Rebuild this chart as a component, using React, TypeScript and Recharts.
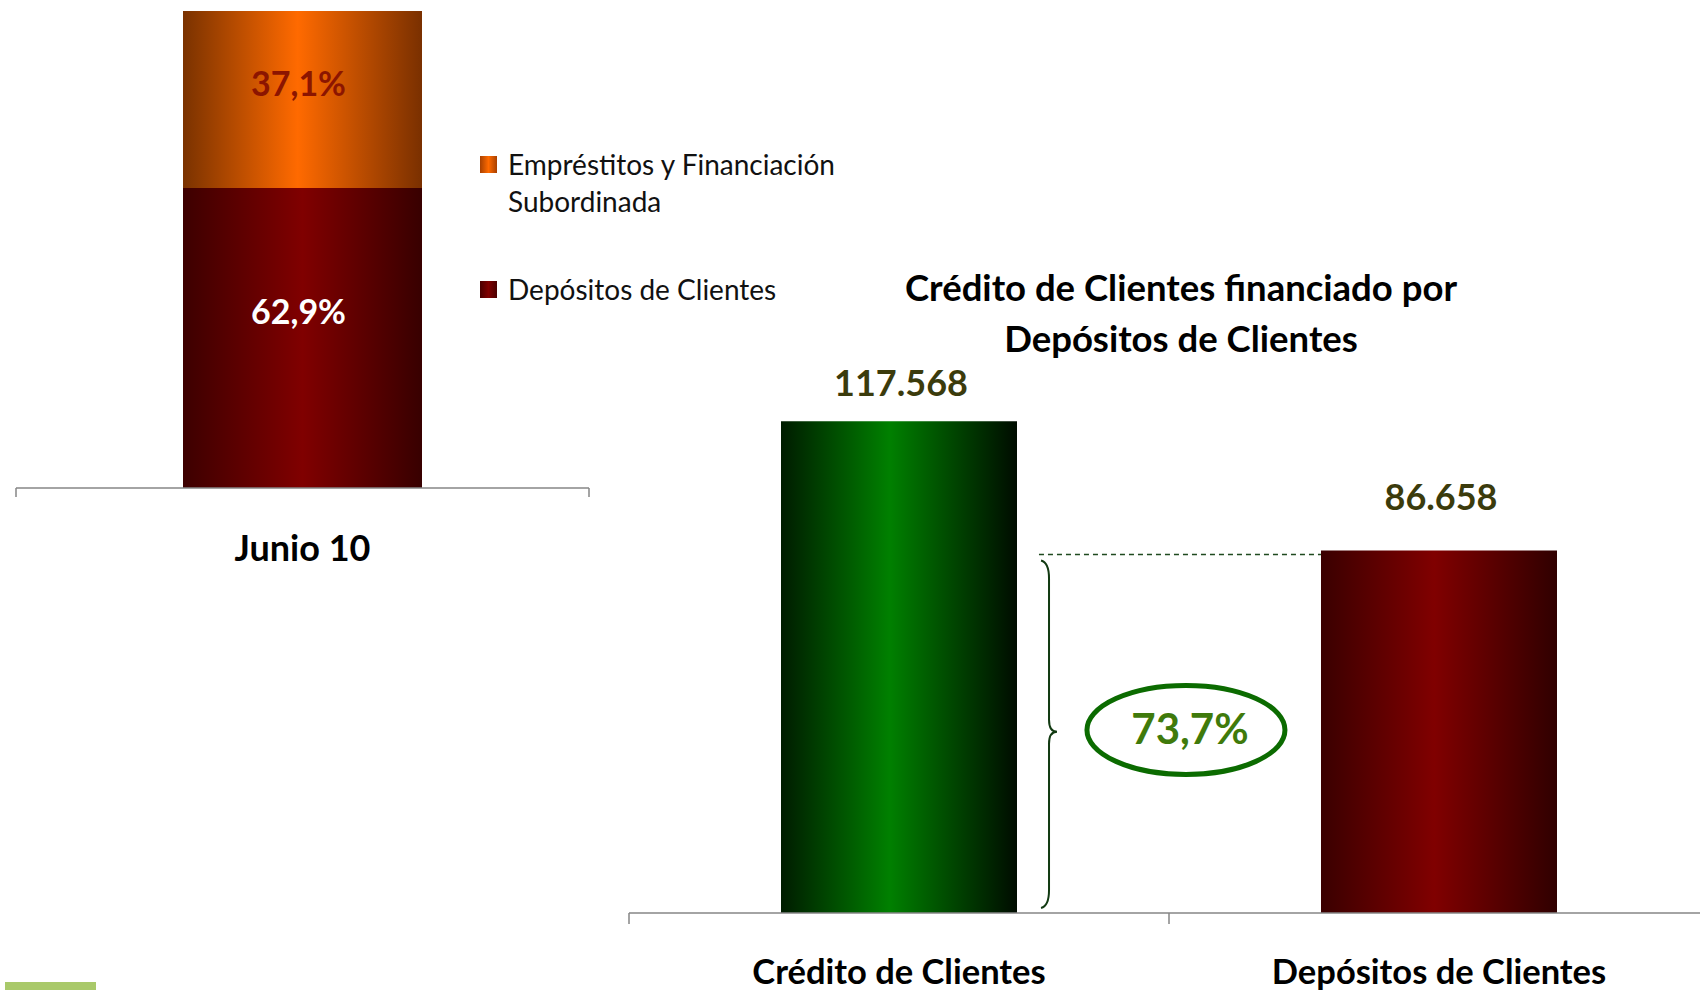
import {
  Bar,
  BarChart,
  Cell,
  LabelList,
  ReferenceArea,
  ReferenceLine,
  XAxis,
  YAxis,
} from "recharts";

// Left chart: funding mix (%)
const MIX_CATEGORIES = ["Junio 10"];
const DEPOSITOS_SHARE = [62.9];
const EMPRESTITOS_SHARE = [37.1];

// Right chart: customer credit vs customer deposits
const FUNDING_CATEGORIES = ["Crédito de Clientes", "Depósitos de Clientes"];
const FUNDING_VALUES = [117568, 86658];

const FONT = "Lato, 'Open Sans', sans-serif";
const AXIS_GRAY = "#868686";
const VALUE_GAP = [39, 54];

const fmtThousands = (v: number) =>
  String(v).replace(/\B(?=(\d{3})+(?!\d))/g, ".");
const fmtPct = (v: number) => v.toFixed(1).replace(".", ",") + "%";

// Excel-style tick marks on category boundaries, hanging below the axis line
const boundaryTick = (len: number) => (p: any) => {
  const base = Math.max(p.y1, p.y2);
  return (
    <line x1={p.x1} x2={p.x1} y1={base} y2={base + len} stroke={AXIS_GRAY} strokeWidth={1.5} />
  );
};

function CategoryTick(props: any) {
  const { x, y, payload, dy, size } = props;
  return (
    <text
      x={x}
      y={y + dy}
      textAnchor="middle"
      dominantBaseline="central"
      fontFamily={FONT}
      fontWeight={700}
      fontSize={size}
      fill="#000"
    >
      {payload.value}
    </text>
  );
}

function CoverageBracket(props: any) {
  const { x, y, width, height } = props;
  const lineStart = x + width * 0.3796;
  const lineEnd = x + width * 0.6407;
  const bx = x + width * 0.3815;
  const stem = bx + 8;
  const tip = bx + 16;
  const top = y + 10;
  const bottom = y + height - 5;
  const mid = y + height * 0.5;
  const d = `M ${bx} ${top} Q ${stem} ${top + 2} ${stem} ${top + 18} L ${stem} ${mid - 12} Q ${stem} ${mid} ${tip} ${mid} Q ${stem} ${mid} ${stem} ${mid + 12} L ${stem} ${bottom - 18} Q ${stem} ${bottom - 2} ${bx} ${bottom}`;
  const cx = x + width * 0.5157;
  const cy = y + height * 0.495;
  const pct = (FUNDING_VALUES[1] / FUNDING_VALUES[0]) * 100;
  return (
    <g>
      <line
        x1={lineStart}
        x2={lineEnd}
        y1={y + 4}
        y2={y + 4}
        stroke="#1f4a1f"
        strokeWidth={1.5}
        strokeDasharray="5 4"
      />
      <path d={d} fill="none" stroke="#123a12" strokeWidth={2} />
      <ellipse cx={cx} cy={cy} rx={99} ry={44.5} fill="#fff" stroke="#0b6b00" strokeWidth={5} />
      <text
        x={cx + 4}
        y={cy - 2}
        textAnchor="middle"
        dominantBaseline="central"
        fontFamily={FONT}
        fontWeight={700}
        fontSize={42}
        fill="#3f7a0b"
      >
        {fmtPct(pct)}
      </text>
    </g>
  );
}

function SegmentLabel(props: any) {
  const { x, y, width, height, value, lift, color } = props;
  return (
    <text
      x={x + width / 2 - 4}
      y={y + height / 2 - lift}
      textAnchor="middle"
      dominantBaseline="central"
      fontFamily={FONT}
      fontWeight={700}
      fontSize={34}
      fill={color}
    >
      {fmtPct(value)}
    </text>
  );
}

function ValueLabel(props: any) {
  const { x, y, width, value, index } = props;
  return (
    <text
      x={x + width / 2 + 2}
      y={y - VALUE_GAP[index]}
      textAnchor="middle"
      dominantBaseline="central"
      fontFamily={FONT}
      fontWeight={700}
      fontSize={36}
      fill="#3b3b0c"
    >
      {fmtThousands(value)}
    </text>
  );
}

function LegendRow({ grad, lines, top }: { grad: string; lines: string[]; top: number }) {
  return (
    <div style={{ position: "absolute", left: 480, top, display: "flex" }}>
      <div style={{ width: 17, height: 17, marginTop: 10, background: grad }} />
      <div style={{ marginLeft: 11, fontFamily: FONT, fontSize: 28, lineHeight: "37px", color: "#111" }}>
        {lines.map((l) => (
          <div key={l}>{l}</div>
        ))}
      </div>
    </div>
  );
}

export default function App() {
  const mixData = MIX_CATEGORIES.map((name, i) => ({
    name,
    depositos: DEPOSITOS_SHARE[i],
    emprestitos: EMPRESTITOS_SHARE[i],
  }));
  const fundingData = FUNDING_CATEGORIES.map((name, i) => ({
    name,
    value: FUNDING_VALUES[i],
  }));

  return (
    <div
      style={{
        position: "absolute",
        left: 0,
        top: 0,
        width: 1700,
        height: 990,
        overflow: "hidden",
        background: "#fff",
      }}
    >
      <div style={{ position: "absolute", left: 0, top: 0 }}>
        <BarChart
          width={620}
          height={620}
          data={mixData}
          margin={{ top: 11, right: 31, left: 16, bottom: 62 }}
        >
          <defs>
            <linearGradient id="mixRed" x1="0" y1="0" x2="1" y2="0">
              <stop offset="0%" stopColor="#3d0000" />
              <stop offset="50%" stopColor="#800000" />
              <stop offset="100%" stopColor="#380000" />
            </linearGradient>
            <linearGradient id="mixOrange" x1="0" y1="0" x2="1" y2="0">
              <stop offset="0%" stopColor="#7a3200" />
              <stop offset="48%" stopColor="#ff6a00" />
              <stop offset="100%" stopColor="#7a3000" />
            </linearGradient>
          </defs>
          <XAxis
            xAxisId="cat"
            dataKey="name"
            stroke={AXIS_GRAY}
            axisLine={{ stroke: AXIS_GRAY, strokeWidth: 1.5 }}
            tickLine={false}
            tickSize={0}
            tickMargin={0}
            height={70}
            interval={0}
            tick={(p: any) => <CategoryTick {...p} dy={59} size={36} />}
          />
          <YAxis hide domain={[0, 100]} />
          <Bar
            xAxisId="cat"
            dataKey="depositos"
            stackId="mix"
            fill="url(#mixRed)"
            barSize={239}
            isAnimationActive={false}
          >
            <LabelList
              dataKey="depositos"
              content={(p: any) => <SegmentLabel {...p} lift={27} color="#ffffff" />}
            />
          </Bar>
          <Bar
            xAxisId="cat"
            dataKey="emprestitos"
            stackId="mix"
            fill="url(#mixOrange)"
            barSize={239}
            isAnimationActive={false}
          >
            <LabelList
              dataKey="emprestitos"
              content={(p: any) => <SegmentLabel {...p} lift={17} color="#8c1500" />}
            />
          </Bar>
          <ReferenceLine xAxisId="cat" x={MIX_CATEGORIES[0]} position="start" shape={boundaryTick(9)} />
          <ReferenceLine xAxisId="cat" x={MIX_CATEGORIES[0]} position="end" shape={boundaryTick(9)} />
        </BarChart>
      </div>

      <LegendRow
        top={146}
        grad="linear-gradient(90deg,#a84000,#ff6a00 50%,#a84000)"
        lines={["Empréstitos y Financiación", "Subordinada"]}
      />
      <LegendRow
        top={271}
        grad="linear-gradient(90deg,#4a0000,#800000 50%,#4a0000)"
        lines={["Depósitos de Clientes"]}
      />

      <div
        style={{
          position: "absolute",
          left: 831,
          top: 262,
          width: 700,
          textAlign: "center",
          fontFamily: FONT,
          fontWeight: 700,
          fontSize: 36.5,
          lineHeight: "51px",
          color: "#000",
        }}
      >
        <div>Crédito de Clientes financiado por</div>
        <div>Depósitos de Clientes</div>
      </div>

      <div style={{ position: "absolute", left: 600, top: 0 }}>
        <BarChart
          width={1120}
          height={990}
          data={fundingData}
          margin={{ top: 411, right: 11, left: 29, bottom: 0 }}
        >
          <defs>
            <linearGradient id="creditGreen" x1="0" y1="0" x2="1" y2="0">
              <stop offset="0%" stopColor="#001c00" />
              <stop offset="46%" stopColor="#008000" />
              <stop offset="100%" stopColor="#000c00" />
            </linearGradient>
            <linearGradient id="depRed" x1="0" y1="0" x2="1" y2="0">
              <stop offset="0%" stopColor="#3a0000" />
              <stop offset="48%" stopColor="#800000" />
              <stop offset="100%" stopColor="#300000" />
            </linearGradient>
          </defs>
          <XAxis
            xAxisId="cat"
            dataKey="name"
            stroke={AXIS_GRAY}
            axisLine={{ stroke: AXIS_GRAY, strokeWidth: 1.5 }}
            tickLine={false}
            tickSize={0}
            tickMargin={0}
            height={77}
            interval={0}
            tick={(p: any) => <CategoryTick {...p} dy={57} size={34.5} />}
          />
          <YAxis hide domain={[0, 120000]} />
          <ReferenceArea
            xAxisId="cat"
            y1={0}
            y2={FUNDING_VALUES[1]}
            ifOverflow="visible"
            shape={(p: any) => <CoverageBracket {...p} />}
          />
          <Bar xAxisId="cat" dataKey="value" barSize={236} isAnimationActive={false}>
            {fundingData.map((d, i) => (
              <Cell key={d.name} fill={i === 0 ? "url(#creditGreen)" : "url(#depRed)"} />
            ))}
            <LabelList dataKey="value" content={(p: any) => <ValueLabel {...p} />} />
          </Bar>
          {FUNDING_CATEGORIES.map((c) => (
            <ReferenceLine key={c} xAxisId="cat" x={c} position="start" shape={boundaryTick(11)} />
          ))}
          <ReferenceLine
            xAxisId="cat"
            x={FUNDING_CATEGORIES[FUNDING_CATEGORIES.length - 1]}
            position="end"
            shape={boundaryTick(11)}
          />
        </BarChart>
      </div>

      <div
        style={{
          position: "absolute",
          left: 5,
          top: 982,
          width: 91,
          height: 8,
          background: "#a9c96a",
        }}
      />
    </div>
  );
}
